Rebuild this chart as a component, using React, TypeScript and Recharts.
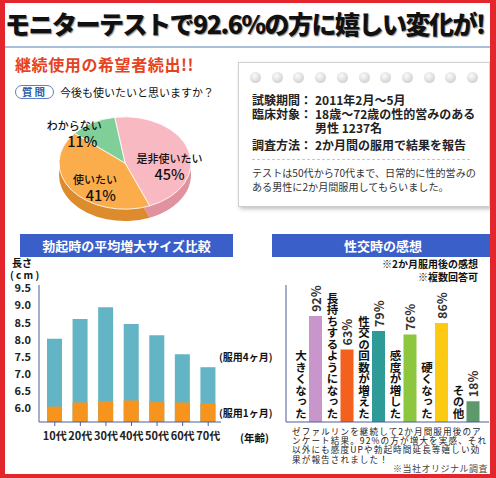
import React from 'react'
import { PieChart, Pie, Cell, BarChart, Bar, XAxis, YAxis, LabelList } from 'recharts'

const FONT = '"Noto Sans CJK JP", "Noto Sans", sans-serif'

// 今後も使いたいと思いますか？
const PIE_NAMES = ['是非使いたい', '使いたい', 'わからない']
const PIE_VALUES = [45, 41, 11]
const PIE_COLORS = ['#f9b9c2', '#fbad4c', '#80cf99']
const PIE_SIDE_COLORS = ['#e0939e', '#dc8c2c', '#58a874']

// 勃起時の平均増大サイズ (cm)
const AGE_GROUPS = ['10代', '20代', '30代', '40代', '50代', '60代', '70代']
const AFTER_1_MONTH = [6.05, 6.17, 6.21, 6.23, 6.18, 6.17, 6.14]
const AFTER_4_MONTHS = [8.03, 8.61, 8.95, 8.46, 8.13, 7.58, 7.2]
const SIZE_TICKS = [6.0, 6.5, 7.0, 7.5, 8.0, 8.5, 9.0, 9.5]

// 性交時の感想 (%)
const IMPRESSIONS = ['大きくなった', '長持ちするようになった', '性交の回数が増えた', '感度が増した', '硬くなった', 'その他']
const IMPRESSION_PCT = [92, 63, 79, 76, 86, 18]
const IMPRESSION_COLORS = ['#c996cb', '#f4611f', '#2f9b99', '#8dc63f', '#fcca12', '#5d996b']

const NOTE_LINES = [
  'ゼファルリンを継続して2か月間服用後のア',
  'ンケート結果。92%の方が増大を実感、それ',
  '以外にも感度UPや勃起時間延長等嬉しい効',
  '果が報告されました！',
]

const pieData = PIE_NAMES.map((name, i) => ({ name, value: PIE_VALUES[i] }))
const sizeData = AGE_GROUPS.map((age, i) => ({ age, m1: AFTER_1_MONTH[i], m4: AFTER_4_MONTHS[i] }))
const impressionData = IMPRESSIONS.map((name, i) => ({ name, pct: IMPRESSION_PCT[i] }))

const PIE_SQUASH = 0.7
// label spot per slice: angle shift from the slice middle, radius, name offset
const PIE_LABEL_SPOT = [
  { shift: -23, r: 45, nameDx: 0 },
  { shift: 20, r: 43, nameDx: -6 },
  { shift: 16, r: 60, nameDx: -8 },
]

function PieLabel(props: any) {
  const { cx, cy, midAngle, index } = props
  const spot = PIE_LABEL_SPOT[index]
  const a = ((midAngle + spot.shift) * Math.PI) / 180
  const x = cx + spot.r * Math.cos(a)
  const y = cy - spot.r * Math.sin(a)
  return (
    <g transform={`translate(${x},${y}) scale(1,${1 / PIE_SQUASH})`}>
      <text textAnchor="middle" x={spot.nameDx} y={-4} fontSize={11} fontWeight={500} fill="#111" fontFamily={FONT}>
        {PIE_NAMES[index]}
      </text>
      <text textAnchor="middle" y={13} fontSize={14.5} fontWeight={500} fill="#111" fontFamily={FONT}>
        {PIE_VALUES[index]}%
      </text>
    </g>
  )
}

function ImpressionName(props: any) {
  const { x, y, height, value } = props
  return (
    <text
      x={x - 8}
      y={y + height - 3}
      textAnchor="end"
      style={{ writingMode: 'vertical-rl' }}
      fontSize={11.5}
      fontWeight={700}
      fill="#111"
      fontFamily={FONT}
    >
      {value}
    </text>
  )
}

function ImpressionPct(props: any) {
  const { x, y, width, value } = props
  const cx = x + width / 2
  const top = y - 4
  return (
    <text
      x={cx}
      y={top}
      transform={`rotate(-90 ${cx} ${top})`}
      textAnchor="start"
      dominantBaseline="central"
      fontSize={12.5}
      fontWeight={700}
      fill="#333"
      fontFamily={FONT}
    >
      {value}%
    </text>
  )
}

const abs = (left: number, top: number, extra: React.CSSProperties = {}): React.CSSProperties => ({
  position: 'absolute',
  left,
  top,
  whiteSpace: 'nowrap',
  ...extra,
})

const headerStyle: React.CSSProperties = {
  background: '#3b5fc9',
  color: '#fff',
  fontWeight: 700,
  fontSize: 13,
  textAlign: 'center',
  lineHeight: '23px',
  height: 23,
}

export default function App() {
  return (
    <div
      style={{
        position: 'absolute',
        left: 0,
        top: 0,
        width: 496,
        height: 478,
        background: '#fff',
        overflow: 'hidden',
        fontFamily: FONT,
        color: '#111',
      }}
    >
      {/* title */}
      <div
        style={abs(5, 8, {
          fontSize: 25,
          fontWeight: 900,
          lineHeight: '30px',
          letterSpacing: -1.5,
          color: '#111',
          textShadow: '1px 1px 1px #999',
        })}
      >
        モニターテストで92.6%の方に嬉しい変化が!
      </div>
      <div style={abs(5, 46, { width: 486, height: 1.5, background: '#a9bfdc' })} />

      {/* pie block */}
      <div style={abs(15, 54, { fontSize: 16, fontWeight: 700, color: '#e5421d', lineHeight: '20px', letterSpacing: 0.6 })}>
        継続使用の希望者続出!!
      </div>
      <div
        style={abs(15, 85, {
          width: 37,
          height: 12,
          border: '1.5px solid #5b7fc0',
          borderRadius: 8,
          fontSize: 10.5,
          fontWeight: 700,
          color: '#2f5fa8',
          lineHeight: '12px',
          textAlign: 'center',
          letterSpacing: 2,
        })}
      >
        質問
      </div>
      <div style={abs(60, 85, { fontSize: 11, lineHeight: '14px' })}>今後も使いたいと思いますか？</div>

      <div style={abs(45, 106.5, { transform: `scaleY(${PIE_SQUASH})`, transformOrigin: 'top left' })}>
        <PieChart width={175} height={170}>
          <Pie
            data={pieData}
            dataKey="value"
            cx={75}
            cy={92}
            outerRadius={66}
            startAngle={99}
            endAngle={-261}
            stroke="none"
            isAnimationActive={false}
          >
            {pieData.map((d, i) => (
              <Cell key={d.name} fill={PIE_SIDE_COLORS[i]} />
            ))}
          </Pie>
          <Pie
            data={pieData}
            dataKey="value"
            cx={75}
            cy={75}
            outerRadius={66}
            startAngle={99}
            endAngle={-261}
            stroke="#fff"
            strokeWidth={1}
            label={PieLabel}
            labelLine={false}
            isAnimationActive={false}
          >
            {pieData.map((d, i) => (
              <Cell key={d.name} fill={PIE_COLORS[i]} />
            ))}
          </Pie>
        </PieChart>
      </div>

      {/* info card */}
      <div
        style={abs(238, 62, {
          width: 250,
          height: 143,
          border: '1px solid #cfcfcf',
          boxShadow: '2px 2px 4px rgba(0,0,0,0.25)',
          background: '#fff',
        })}
      />
      {Array.from({ length: 11 }).map((_, i) => (
        <div
          key={i}
          style={abs(250 + i * 21.7, 72, {
            width: 11,
            height: 11,
            borderRadius: '50%',
            background: 'radial-gradient(circle at 40% 35%, #fbfbfb, #c4c4c4)',
          })}
        />
      ))}
      {[
        ['試験期間：', '2011年2月〜5月', 100],
        ['臨床対象：', '18歳〜72歳の性的営みのある', 114],
        ['', '男性 1237名', 128],
        ['調査方法：', '2か月間の服用で結果を報告', 145],
      ].map(([k, v, y]) => (
        <React.Fragment key={String(y)}>
          <div style={abs(252, (y as number) - 8, { fontSize: 12, fontWeight: 700, lineHeight: '16px', color: '#222' })}>{k}</div>
          <div style={abs(315, (y as number) - 8, { fontSize: 12, fontWeight: 700, lineHeight: '16px', color: '#222' })}>{v}</div>
        </React.Fragment>
      ))}
      <div style={abs(252, 159, { width: 218, borderTop: '1.5px dashed #c8c8c8' })} />
      <div style={abs(252, 166, { fontSize: 10.1, lineHeight: '14px', color: '#333' })}>
        テストは50代から70代まで、日常的に性的営みの
        <br />
        ある男性に2か月間服用してもらいました。
      </div>

      {/* size comparison */}
      <div style={abs(20, 234, { ...headerStyle, width: 213 })}>勃起時の平均増大サイズ比較</div>
      <div style={abs(10, 257, { fontSize: 10, fontWeight: 700, lineHeight: '12px', textAlign: 'center', width: 24 })}>
        長さ
        <br />( c m )
      </div>
      <div style={abs(0, 260)}>
        <BarChart
          width={226}
          height={190}
          data={sizeData}
          margin={{ top: 25, right: 5, bottom: 8, left: 0 }}
          barSize={15}
          barGap={-15}
        >
          <YAxis
            domain={[5.6, 9.6]}
            ticks={SIZE_TICKS}
            allowDataOverflow
            width={39}
            tickLine={false}
            tickSize={6}
            tickMargin={2}
            axisLine={{ stroke: '#4d5d9e' }}
            tickFormatter={(v: number) => v.toFixed(1)}
            tick={{ fontSize: 11, fill: '#222', fontFamily: FONT, fontWeight: 600 }}
          />
          <XAxis
            dataKey="age"
            height={20}
            padding={{ left: 3, right: 0 }}
            tickSize={4}
            tickMargin={6}
            axisLine={{ stroke: '#4d5d9e' }}
            tickLine={{ stroke: '#4d5d9e' }}
            tick={{ fontSize: 11, fill: '#222', fontFamily: FONT, fontWeight: 600 }}
            interval={0}
          />
          <Bar dataKey="m4" fill="#63b4c4" isAnimationActive={false} />
          <Bar dataKey="m1" fill="#f7941d" isAnimationActive={false} />
        </BarChart>
      </div>
      <div style={abs(219, 350, { fontSize: 10, fontWeight: 700, lineHeight: '14px' })}>(服用4ヶ月)</div>
      <div style={abs(219, 406, { fontSize: 10, fontWeight: 700, lineHeight: '14px' })}>(服用1ヶ月)</div>
      <div style={abs(240, 431, { fontSize: 10.5, fontWeight: 700, lineHeight: '14px' })}>(年齢)</div>

      {/* impressions */}
      <div style={abs(272, 234, { ...headerStyle, width: 222 })}>性交時の感想</div>
      <div style={abs(0, 257, { width: 478, textAlign: 'right', fontSize: 10, fontWeight: 700, lineHeight: '13px' })}>
        ※2か月服用後の感想
        <br />
        ※複数回答可
      </div>
      <div style={abs(265, 270)}>
        <BarChart
          width={230}
          height={160}
          data={impressionData}
          margin={{ top: 15, right: 6, bottom: 7, left: 0 }}
          barSize={13}
        >
          <YAxis domain={[0, 119]} width={21} tick={false} tickLine={false} axisLine={{ stroke: '#4d5d9e' }} />
          <XAxis
            dataKey="name"
            height={1}
            tick={false}
            tickLine={false}
            padding={{ left: 14, right: 0 }}
            axisLine={{ stroke: '#4d5d9e' }}
          />
          <Bar dataKey="pct" isAnimationActive={false}>
            {impressionData.map((d, i) => (
              <Cell key={d.name} fill={IMPRESSION_COLORS[i]} />
            ))}
            <LabelList dataKey="name" content={ImpressionName} />
            <LabelList dataKey="pct" content={ImpressionPct} />
          </Bar>
        </BarChart>
      </div>
      {NOTE_LINES.map((line, i) => (
        <div
          key={line}
          style={abs(292, 426.5 + i * 9.4, {
            fontSize: 8.6,
            letterSpacing: 1.1,
            lineHeight: '9.4px',
            height: 9.4,
            color: '#222',
          })}
        >
          {line}
        </div>
      ))}
      <div style={abs(0, 463, { width: 488, textAlign: 'right', fontSize: 9, letterSpacing: 0.5, lineHeight: '12px', color: '#444' })}>
        ※当社オリジナル調査
      </div>

      {/* red frame */}
      <div
        style={abs(0, 0, {
          width: 496,
          height: 478,
          boxSizing: 'border-box',
          borderStyle: 'solid',
          borderColor: '#e3262b',
          borderWidth: '3px 6px 4px 5px',
          pointerEvents: 'none',
        })}
      />
    </div>
  )
}
